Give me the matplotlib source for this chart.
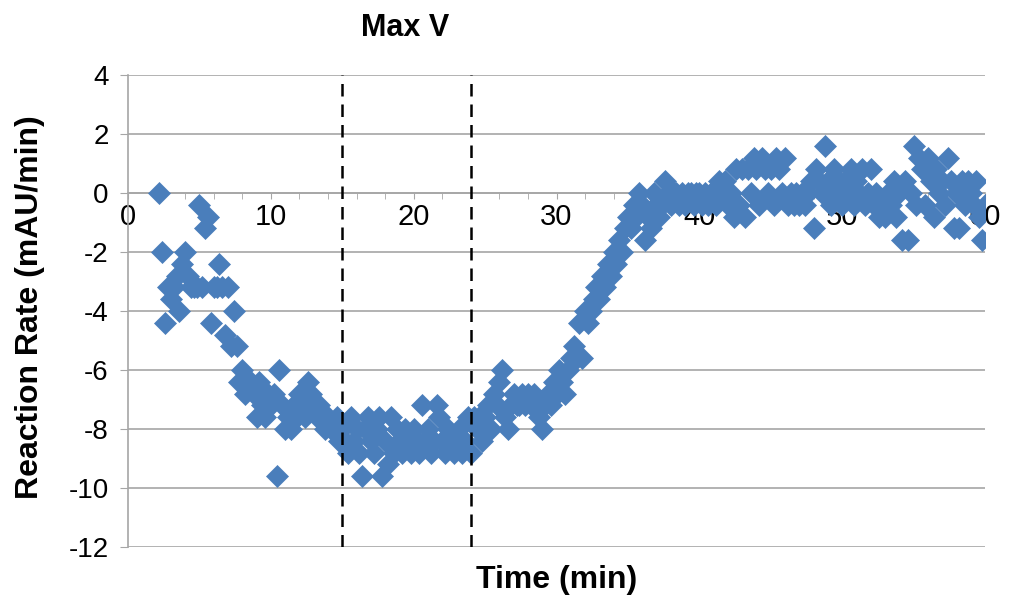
import matplotlib.pyplot as plt
from matplotlib.ticker import MultipleLocator

# sampling times (min) and measured reaction rate (mAU/min)
time_min = [
    2.2, 2.4, 2.6, 2.8, 3.0, 3.2, 3.4, 3.6, 3.8, 4.0,
    4.2, 4.4, 4.6, 4.8, 5.0, 5.2, 5.4, 5.6, 5.8, 6.0,
    6.2, 6.4, 6.6, 6.8, 7.0, 7.2, 7.4, 7.6, 7.8, 8.0,
    8.2, 8.4, 8.6, 8.8, 9.0, 9.2, 9.4, 9.6, 9.8, 10.0,
    10.2, 10.4, 10.6, 10.8, 11.0, 11.2, 11.4, 11.6, 11.8, 12.0,
    12.2, 12.4, 12.6, 12.8, 13.0, 13.2, 13.4, 13.6, 13.8, 14.0,
    14.2, 14.4, 14.6, 14.8, 15.0, 15.2, 15.4, 15.6, 15.8, 16.0,
    16.2, 16.4, 16.6, 16.8, 17.0, 17.2, 17.4, 17.6, 17.8, 18.0,
    18.2, 18.4, 18.6, 18.8, 19.0, 19.2, 19.4, 19.6, 19.8, 20.0,
    20.2, 20.4, 20.6, 20.8, 21.0, 21.2, 21.4, 21.6, 21.8, 22.0,
    22.2, 22.4, 22.6, 22.8, 23.0, 23.2, 23.4, 23.6, 23.8, 24.0,
    24.2, 24.4, 24.6, 24.8, 25.0, 25.2, 25.4, 25.6, 25.8, 26.0,
    26.2, 26.4, 26.6, 26.8, 27.0, 27.2, 27.4, 27.6, 27.8, 28.0,
    28.2, 28.4, 28.6, 28.8, 29.0, 29.2, 29.4, 29.6, 29.8, 30.0,
    30.2, 30.4, 30.6, 30.8, 31.0, 31.2, 31.4, 31.6, 31.8, 32.0,
    32.2, 32.4, 32.6, 32.8, 33.0, 33.2, 33.4, 33.6, 33.8, 34.0,
    34.2, 34.4, 34.6, 34.8, 35.0, 35.2, 35.4, 35.6, 35.8, 36.0,
    36.2, 36.4, 36.6, 36.8, 37.0, 37.2, 37.4, 37.6, 37.8, 38.0,
    38.2, 38.4, 38.6, 38.8, 39.0, 39.2, 39.4, 39.6, 39.8, 40.0,
    40.2, 40.4, 40.6, 40.8, 41.0, 41.2, 41.4, 41.6, 41.8, 42.0,
    42.2, 42.4, 42.6, 42.8, 43.0, 43.2, 43.4, 43.6, 43.8, 44.0,
    44.2, 44.4, 44.6, 44.8, 45.0, 45.2, 45.4, 45.6, 45.8, 46.0,
    46.2, 46.4, 46.6, 46.8, 47.0, 47.2, 47.4, 47.6, 47.8, 48.0,
    48.2, 48.4, 48.6, 48.8, 49.0, 49.2, 49.4, 49.6, 49.8, 50.0,
    50.2, 50.4, 50.6, 50.8, 51.0, 51.2, 51.4, 51.6, 51.8, 52.0,
    52.2, 52.4, 52.6, 52.8, 53.0, 53.2, 53.4, 53.6, 53.8, 54.0,
    54.2, 54.4, 54.6, 54.8, 55.0, 55.2, 55.4, 55.6, 55.8, 56.0,
    56.2, 56.4, 56.6, 56.8, 57.0, 57.2, 57.4, 57.6, 57.8, 58.0,
    58.2, 58.4, 58.6, 58.8, 59.0, 59.2, 59.4, 59.6, 59.8, 60.0,
]

rate = [
    0.0, -2.0, -4.4, -3.2, -3.6, -3.2, -2.8, -4.0, -2.4, -2.0,
    -2.8, -3.2, -3.2, -3.2, -0.4, -3.2, -1.2, -0.8, -4.4, -3.2,
    -3.2, -2.4, -3.2, -4.8, -3.2, -5.2, -4.0, -5.2, -6.4, -6.0,
    -6.8, -6.4, -6.4, -6.8, -7.6, -6.4, -7.2, -7.6, -6.8, -7.2,
    -6.8, -9.6, -6.0, -7.2, -8.0, -7.6, -8.0, -7.2, -7.6, -6.8,
    -7.2, -7.6, -6.4, -6.8, -7.2, -7.6, -7.2, -7.6, -8.0, -7.6,
    -8.0, -8.0, -7.6, -8.4, -8.0, -8.4, -8.8, -7.6, -8.4, -8.0,
    -8.8, -9.6, -8.0, -7.6, -8.4, -8.8, -8.0, -7.6, -9.6, -8.4,
    -9.2, -7.6, -8.8, -8.0, -8.4, -8.8, -8.0, -8.4, -8.8, -8.0,
    -8.4, -8.8, -7.2, -8.4, -8.0, -8.8, -8.4, -7.2, -7.6, -8.4,
    -8.8, -8.0, -8.4, -8.8, -8.4, -8.0, -8.8, -8.4, -7.6, -8.8,
    -7.6, -8.0, -7.6, -8.4, -7.6, -7.2, -8.0, -6.8, -7.2, -6.4,
    -6.0, -7.6, -8.0, -7.2, -6.8, -7.2, -7.2, -6.8, -7.2, -6.8,
    -7.2, -6.8, -7.2, -7.6, -8.0, -7.2, -6.8, -7.2, -6.4, -6.8,
    -6.0, -6.4, -6.8, -6.0, -5.6, -5.2, -5.6, -4.4, -5.6, -4.0,
    -4.4, -4.0, -3.6, -3.2, -3.6, -2.8, -3.2, -2.4, -2.8, -2.0,
    -2.4, -1.6, -2.0, -1.2, -0.8, -1.2, -0.4, -0.8, 0.0, -0.4,
    -1.6, -0.8, -1.2, 0.0, -0.4, -0.8, -0.4, 0.4, 0.0, -0.4,
    0.0, 0.0, -0.4, 0.0, -0.4, 0.0, 0.0, -0.4, 0.0, 0.0,
    -0.4, 0.0, -0.4, 0.0, 0.0, -0.4, 0.4, 0.0, 0.4, -0.4,
    0.0, -0.8, 0.8, -0.4, 0.8, -0.8, 0.8, 0.0, 1.2, 0.8,
    -0.4, 1.2, 0.8, 0.0, 0.8, -0.4, 1.2, 0.8, 0.0, 1.2,
    -0.4, 0.0, -0.4, 0.0, -0.4, 0.0, -0.4, 0.0, 0.4, -1.2,
    0.8, 0.4, 0.0, 1.6, 0.4, -0.4, 0.8, 0.0, 0.4, -0.4,
    0.4, 0.0, 0.8, -0.4, 0.4, 0.0, 0.8, -0.4, 0.0, 0.8,
    -0.4, 0.0, -0.8, -0.4, -0.8, 0.0, -0.4, 0.4, -0.8, 0.0,
    -1.6, 0.4, -1.6, 0.0, 1.6, -0.4, 1.2, 0.8, -0.4, 1.2,
    0.4, -0.8, 0.8, 0.0, 0.4, -0.4, 1.2, 0.4, -1.2, 0.0,
    -1.2, 0.4, -0.4, 0.4, 0.0, -0.4, 0.4, -0.8, -1.6, -0.4,
]

# boundaries of the max-velocity window
window = [15, 24]

plt.rcParams['font.family'] = ['Liberation Sans', 'DejaVu Sans']
plt.rcParams['axes.unicode_minus'] = False

fig = plt.figure(figsize=(10.11, 6.06), dpi=100)
ax = fig.add_axes([0.1266, 0.0974, 0.8477, 0.7788])

grid_col = '#A6A6A6'

ax.plot(time_min, rate, linestyle='none', marker='D', ms=11,
        color='#4A7EBB', mec='#4A7EBB', mew=0.5, zorder=3)

for x in window:
    ax.axvline(x, color='black', lw=1.8, ls=(0, (5, 3.2)), zorder=4)

ax.set_xlim(0, 60)
ax.set_ylim(-12, 4)
ax.yaxis.set_major_locator(MultipleLocator(2))
ax.xaxis.set_major_locator(MultipleLocator(10))
ax.xaxis.set_minor_locator(MultipleLocator(2))
ax.yaxis.grid(True, color=grid_col, lw=1.2)
ax.set_axisbelow(True)

for s in ['top', 'right']:
    ax.spines[s].set_visible(False)
ax.spines['bottom'].set_position(('data', 0))
ax.spines['bottom'].set_color(grid_col)
ax.spines['left'].set_color(grid_col)
ax.spines['bottom'].set_linewidth(1.2)
ax.spines['left'].set_linewidth(1.2)

ax.tick_params(axis='y', which='major', direction='out', length=6,
               color=grid_col, labelsize=20, pad=8)
ax.tick_params(axis='x', which='both', direction='out', length=4,
               color=grid_col, labelsize=21, pad=3)

fig.text(0.4006, 0.9538, 'Max V', ha='center', va='center',
         fontsize=22, fontweight='bold')
fig.text(0.5505, 0.0429, 'Time (min)', ha='center', va='center',
         fontsize=23, fontweight='bold')
fig.text(0.0297, 0.4934, 'Reaction Rate (mAU/min)', ha='center', va='center',
         rotation=90, fontsize=23, fontweight='bold')

fig.savefig('out.png', dpi=100)
